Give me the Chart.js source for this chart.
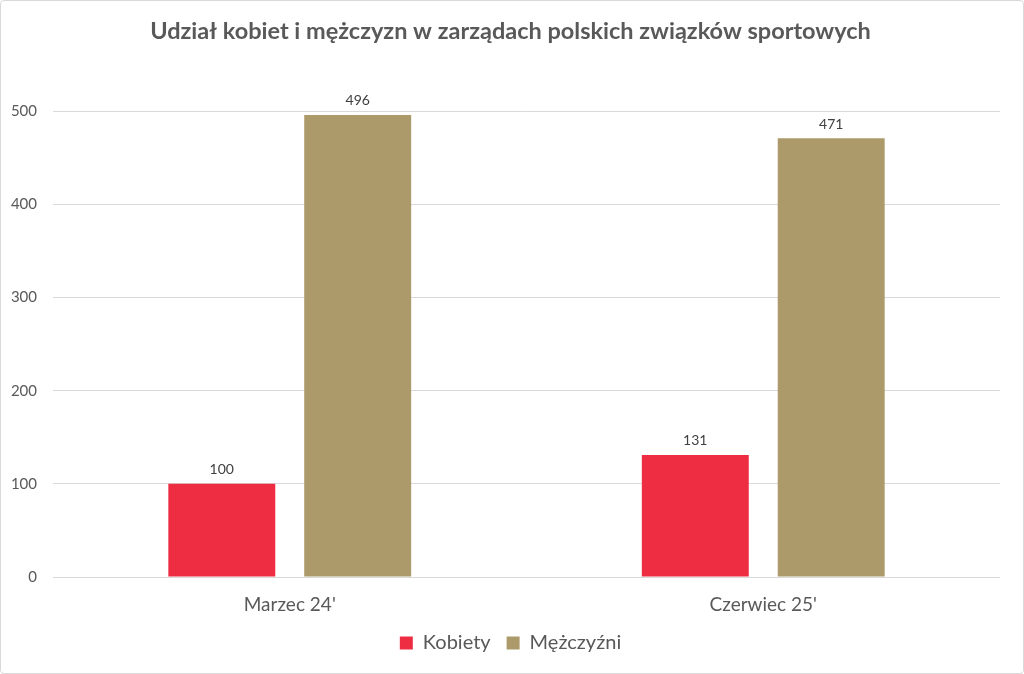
<!DOCTYPE html>
<html>
<head>
<meta charset="utf-8">
<script src="https://cdn.jsdelivr.net/npm/chart.js@4/dist/chart.umd.min.js"></script>
<style>
html,body{margin:0;padding:0;background:#fff;}
#wrap{position:absolute;left:0;top:0;width:1022px;height:672px;border:1px solid #d9d9d9;border-radius:4px;}
canvas{display:block;}
</style>
</head>
<body>
<div id="wrap"><canvas id="c" width="1022" height="672"></canvas></div>
<script>
const categories = ["Marzec 24'", "Czerwiec 25'"];
const kobiety = [100, 131];
const mezczyzni = [496, 471];
const seriesNames = ["Kobiety", "Mężczyźni"];
const titleText = "Udział kobiet i mężczyzn w zarządach polskich związków sportowych";

const FONT = "Lato, 'Open Sans', sans-serif";

const dataLabels = {
  id: 'dataLabels',
  afterDatasetsDraw(chart) {
    const ctx = chart.ctx;
    ctx.save();
    ctx.font = "14px " + FONT;
    ctx.fillStyle = "#404040";
    ctx.textAlign = "center";
    ctx.textBaseline = "bottom";
    chart.data.datasets.forEach((ds, i) => {
      chart.getDatasetMeta(i).data.forEach((el, j) => {
        ctx.fillText(String(ds.data[j]), el.x, el.y - 7);
      });
    });
    ctx.restore();
  }
};

new Chart(document.getElementById('c'), {
  type: 'bar',
  data: {
    labels: categories,
    datasets: [
      { label: seriesNames[0], data: kobiety, backgroundColor: '#EE2D43', categoryPercentage: 0.574, barPercentage: 0.787 },
      { label: seriesNames[1], data: mezczyzni, backgroundColor: '#AD9A6B', categoryPercentage: 0.574, barPercentage: 0.787 }
    ]
  },
  options: {
    responsive: false,
    animation: false,
    layout: { padding: { left: 0, right: 3, top: 16, bottom: 10 } },
    plugins: {
      title: {
        display: true, text: titleText, color: '#595959',
        font: { family: FONT, size: 23.5, weight: 'bold' },
        padding: { top: 0, bottom: 66 }
      },
      legend: {
        position: 'bottom',
        labels: { color: '#595959', font: { family: FONT, size: 20 }, boxWidth: 13, boxHeight: 13, padding: 16 }
      },
      tooltip: { enabled: false }
    },
    scales: {
      x: {
        grid: { display: false, drawTicks: false },
        border: { display: false },
        afterFit(scale) { scale.height = 40; },
        ticks: { color: '#595959', font: { family: FONT, size: 19 }, padding: 16 }
      },
      y: {
        min: 0, max: 500,
        grid: { color: '#d9d9d9', drawTicks: false },
        border: { display: false },
        afterFit(scale) { scale.width = 52; },
        ticks: { stepSize: 100, color: '#595959', font: { family: FONT, size: 15 }, padding: 16 }
      },
      yRight: {
        position: 'right',
        min: 0, max: 500,
        grid: { display: false, drawTicks: false },
        border: { display: false },
        ticks: { display: false },
        afterFit(scale) { scale.width = 20; }
      }
    }
  },
  plugins: [dataLabels]
});
</script>
</body>
</html>
